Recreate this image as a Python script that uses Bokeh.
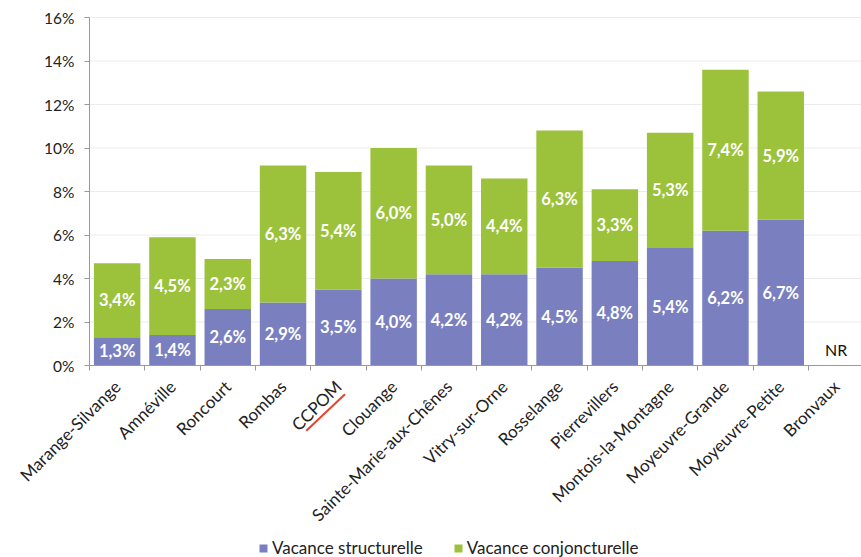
import math
from bokeh.plotting import figure
from bokeh.models import (ColumnDataSource, Range1d, FixedTicker, Legend, LegendItem,
                          Label, PrintfTickFormatter)
from bokeh.embed import file_html
from bokeh.resources import INLINE

communes = ["Marange-Silvange", "Amnéville", "Roncourt", "Rombas", "CCPOM", "Clouange",
            "Sainte-Marie-aux-Chênes", "Vitry-sur-Orne", "Rosselange", "Pierrevillers",
            "Montois-la-Montagne", "Moyeuvre-Grande", "Moyeuvre-Petite", "Bronvaux"]
structurelle = [1.3, 1.4, 2.6, 2.9, 3.5, 4.0, 4.2, 4.2, 4.5, 4.8, 5.4, 6.2, 6.7, None]
conjoncturelle = [3.4, 4.5, 2.3, 6.3, 5.4, 6.0, 5.0, 4.4, 6.3, 3.3, 5.3, 7.4, 5.9, None]
y_ticks = [0, 2, 4, 6, 8, 10, 12, 14, 16]
nr_label = "NR"

BLUE = "#7a7fbf"
GREEN = "#9bc23a"
FONT = "Lato"

n = len(communes)
xs, s_vals, c_top, s_mid, c_mid, s_lab, c_lab = [], [], [], [], [], [], []
for i, (s, c) in enumerate(zip(structurelle, conjoncturelle)):
    if s is None:
        continue
    xs.append(i + 0.5)
    s_vals.append(s)
    s_mid.append(s / 2)
    c_mid.append(s + c / 2)
    c_top.append(s + c)
    s_lab.append(f"{s:.1f}%".replace(".", ","))
    c_lab.append(f"{c:.1f}%".replace(".", ","))

src = ColumnDataSource(dict(x=xs, s=s_vals, c_top=c_top, s_mid=s_mid, c_mid=c_mid,
                            s_lab=s_lab, c_lab=c_lab))

# page geometry (pixels): the frame covers the whole canvas, axes are pinned at 0
W, H = 861, 557
TOP, LEFT, ZERO_Y = 17, 89, 365
PX_PER_PCT = (ZERO_Y - TOP) / 16.0
PX_PER_CAT = 55.3
y_start = -(H - ZERO_Y) / PX_PER_PCT
y_end = ZERO_Y / PX_PER_PCT
x_start = -LEFT / PX_PER_CAT
x_end = (W - LEFT) / PX_PER_CAT

p = figure(width=W, height=H, output_backend="svg", toolbar_location=None,
           x_range=Range1d(x_start, x_end), y_range=Range1d(y_start, y_end),
           min_border_left=0, min_border_top=0, min_border_right=0, min_border_bottom=0)
p.outline_line_color = None
p.background_fill_color = "white"

# horizontal gridlines, starting at the y axis
p.segment(x0=[0] * len(y_ticks), y0=y_ticks, x1=[x_end] * len(y_ticks), y1=y_ticks,
          line_color="#ececec", line_width=1)

r_s = p.vbar(x="x", bottom=0, top="s", width=0.84, source=src, fill_color=BLUE,
             line_color=None)
r_c = p.vbar(x="x", bottom="s", top="c_top", width=0.84, source=src, fill_color=GREEN,
             line_color=None)

for col, ycol in (("s_lab", "s_mid"), ("c_lab", "c_mid")):
    p.text(x="x", y=ycol, text=col, source=src, text_color="white", text_font_style="bold",
           text_font_size="16.5px", text_align="center", text_baseline="middle",
           text_font={"value": FONT})

p.add_layout(Label(x=n - 0.5, y=0.75, text=nr_label, text_align="center",
                   text_baseline="middle", text_font_size="16px", text_color="#111111",
                   text_font=FONT))

# red underline under the CCPOM label
idx = communes.index("CCPOM")
p.segment(x0=[idx - 0.08], y0=[-3.0], x1=[idx + 0.62], y1=[-1.32],
          line_color="#e8412c", line_width=2)

# x axis, drawn at y = 0 inside the frame
xa = p.xaxis[0]
xa.fixed_location = 0
xa.bounds = (0, n)
xa.ticker = FixedTicker(ticks=[i + 0.5 for i in range(n)], minor_ticks=list(range(n + 1)))
xa.major_label_overrides = {i + 0.5: name for i, name in enumerate(communes)}
xa.major_label_orientation = math.pi / 4
xa.major_tick_line_color = None
xa.minor_tick_in = 0
xa.minor_tick_out = 5
xa.minor_tick_line_color = "#999999"
xa.axis_line_color = "#999999"
xa.major_label_text_font = FONT
xa.major_label_text_font_size = "17px"
xa.major_label_text_color = "#222222"
xa.major_label_standoff = 12

# y axis, drawn at x = 0 inside the frame
ya = p.yaxis[0]
ya.fixed_location = 0
ya.bounds = (0, 16)
ya.ticker = FixedTicker(ticks=y_ticks, minor_ticks=[])
ya.formatter = PrintfTickFormatter(format="%d%%")
ya.major_tick_in = 0
ya.major_tick_out = 5
ya.major_tick_line_color = "#999999"
ya.axis_line_color = "#999999"
ya.major_label_text_font = FONT
ya.major_label_text_font_size = "15.5px"
ya.major_label_text_color = "#222222"
ya.major_label_standoff = 10

p.xgrid.grid_line_color = None
p.ygrid.grid_line_color = None

legend = Legend(items=[LegendItem(label="Vacance structurelle", renderers=[r_s]),
                       LegendItem(label="Vacance conjoncturelle", renderers=[r_c])],
                orientation="horizontal", location=(258, -1),
                label_text_font=FONT, label_text_font_size="17px",
                label_text_color="#222222", glyph_width=10, glyph_height=10,
                spacing=30, label_standoff=4, border_line_color=None,
                background_fill_alpha=0, padding=0, margin=0)
p.add_layout(legend, "center")

open("out.html", "w").write(file_html(p, INLINE))
